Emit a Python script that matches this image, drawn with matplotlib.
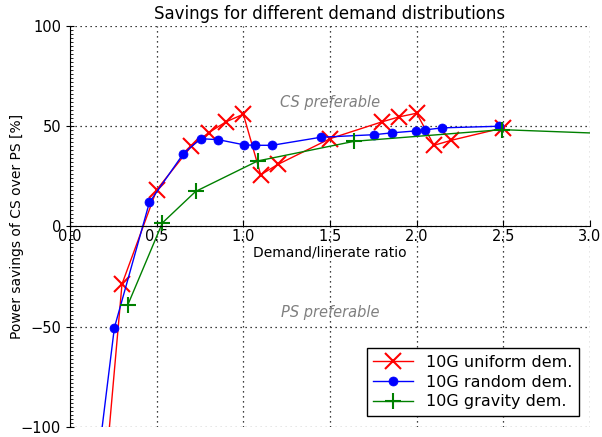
import matplotlib
matplotlib.use("Agg")
import matplotlib.pyplot as plt
from matplotlib.ticker import MultipleLocator

uniform_x = [0.20, 0.30, 0.50, 0.70, 0.80, 0.90, 1.00, 1.10, 1.20, 1.50, 1.80, 1.90, 2.00, 2.10, 2.20, 2.50]
uniform_y = [-127, -28.7, 18.3, 40.0, 46.8, 52.2, 56.0, 25.8, 31.0, 43.8, 52.2, 54.7, 56.5, 40.5, 43.0, 49.2]

random_x = [0.16, 0.256, 0.458, 0.654, 0.754, 0.856, 1.006, 1.067, 1.166, 1.446, 1.756, 1.856, 1.998, 2.05, 2.147, 2.474]
random_y = [-118, -50.5, 12.0, 36.3, 43.8, 43.3, 40.7, 40.5, 40.5, 44.5, 45.8, 46.7, 47.7, 48.2, 49.2, 50.0]

gravity_x = [0.333, 0.533, 0.725, 1.083, 1.64, 2.493, 3.33]
gravity_y = [-39.2, 1.8, 17.5, 32.7, 42.5, 48.3, 45.6]

title = "Savings for different demand distributions"
xlabel = "Demand/linerate ratio"
ylabel = "Power savings of CS over PS [%]"
legend_labels = ["10G uniform dem.", "10G random dem.", "10G gravity dem."]
xtick_labels = ["0.0", "0.5", "1.0", "1.5", "2.0", "2.5", "3.0"]
xtick_values = [0.0, 0.5, 1.0, 1.5, 2.0, 2.5, 3.0]

fig = plt.figure(figsize=(6.02, 4.37), dpi=100)
ax = fig.add_axes([70/602, 10/437, 520/602, 401/437])

ax.plot(uniform_x, uniform_y, color="red", marker="x", markersize=11, mew=1.5, lw=1, label=legend_labels[0])
ax.plot(random_x, random_y, color="blue", marker="o", markersize=6.5, mew=0.5, lw=1, label=legend_labels[1])
ax.plot(gravity_x, gravity_y, color="green", marker="+", markersize=11, mew=1.5, lw=1, label=legend_labels[2])

ax.set_xlim(0, 3.0)
ax.set_ylim(-100, 100)
ax.yaxis.set_major_locator(MultipleLocator(50))
ax.yaxis.set_minor_locator(MultipleLocator(2))
ax.set_xticks(xtick_values)
ax.set_xticklabels(xtick_labels)

ax.spines["top"].set_visible(False)
ax.spines["right"].set_visible(False)
ax.spines["bottom"].set_position(("data", 0))
ax.grid(True, which="major", linestyle=(0, (1, 3)), color="black", lw=0.9)
ax.tick_params(axis="y", which="major", direction="inout", length=6, labelsize=10.5)
ax.tick_params(axis="y", which="minor", direction="in", length=2)
ax.tick_params(axis="x", which="major", direction="in", length=4, labelsize=10.5, pad=2)
ax.xaxis.set_ticks_position("bottom")
ax.yaxis.set_ticks_position("left")

ax.set_title(title, fontsize=12, pad=5)
ax.set_xlabel(xlabel, fontsize=10, labelpad=1)
ax.set_ylabel(ylabel, fontsize=10)
ax.yaxis.set_label_coords(-0.089, 0.5)

ax.text(1.5, 62, "CS preferable", color="gray", style="italic", fontsize=10.5, ha="center", va="center")
ax.text(1.5, -43, "PS preferable", color="gray", style="italic", fontsize=10.5, ha="center", va="center")

leg = ax.legend(loc="lower right", fontsize=11.5, fancybox=False, framealpha=1, edgecolor="black",
                borderaxespad=0.7, handlelength=2.5, labelspacing=0.3)
leg.get_frame().set_linewidth(1)

fig.savefig("out.png", dpi=100)
